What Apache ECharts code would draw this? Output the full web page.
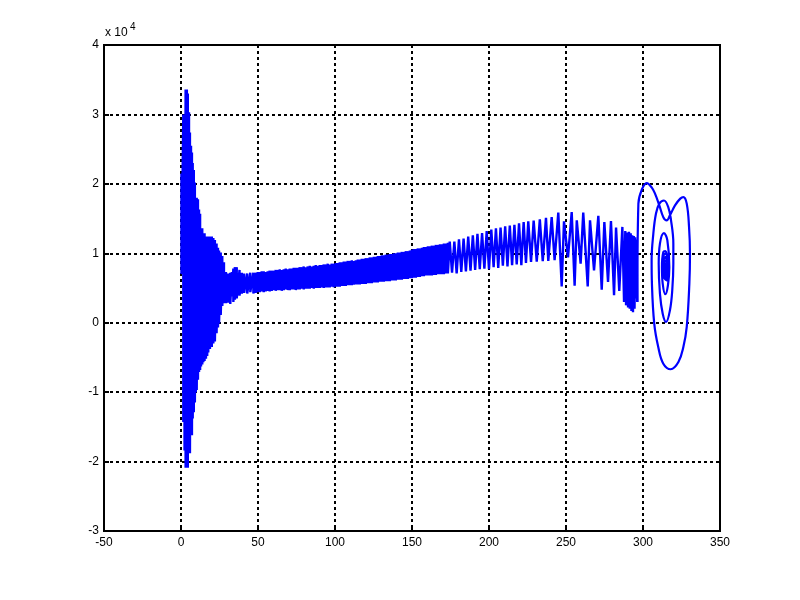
<!DOCTYPE html>
<html><head><meta charset="utf-8">
<style>html,body{margin:0;padding:0;background:#fff}#c{width:800px;height:600px}</style>
<script src="https://cdn.jsdelivr.net/npm/echarts@6/dist/echarts.min.js"></script>
</head><body><div id="c"></div>
<script>
// values on y are in units of 10^4
const xTicks = [-50, 350];
const yTicks = [-3, 4];
const exponentLabel = 'x 10';
const exponentPower = '4';

// near-vertical strokes of the dense early part: position, top, bottom
const strokeX = [0.3,1.5,2.3,3,3.8,4.4,5.2,5.8,6.5,7.1,7.6,8.3,9,9.6,10.2,11,11.7,12.4,13,13.8,14.5,15.3,16.2,17,17.7,18.8,20,21,22,23.1,24,24.7,25.8,26.8,27.9,29.2,30.7,32,33,34,35,36.2,38,39.5,41,43,45,47,
48.5,49.8,51.1,52.4,53.7,55,56.3,57.6,58.9,60.2,61.5,62.8,64.1,65.4,66.7,68,69.3,70.6,71.9,73.2,74.5,75.8,77.1,78.4,79.7,81,82.3,83.6,84.9,86.2,87.5,88.8,90.1,91.4,92.7,94,95.3,96.6,97.9,99.2,100.5,101.8,103.1,104.4,105.7,107,108.3,109.6,110.9,112.2,113.5,114.8,116.1,117.4,118.7,120,121.3,122.6,123.9,125.2,126.5,127.8,129.1,130.4,131.7,133,134.3,135.6,136.9,138.2,139.5,140.8,142.1,143.4,144.7,146,147.3,148.6,149.9,151.2,152.5,153.8,155.1,156.4,157.7,159,160.3,161.6,162.9,164.2,165.5,166.8,168.1,169.4,170.7,172,173.3];
const strokeTop = [2.15,3,3,3.36,3.36,3.3,3.03,2.74,2.55,2.45,2.3,2.2,2.02,1.8,1.8,1.78,1.63,1.57,1.36,1.36,1.29,1.29,1.24,1.24,1.24,1.24,1.24,1.22,1.19,1.14,1.08,1.04,1.01,0.96,0.87,0.73,0.71,0.72,0.73,0.78,0.8,0.8,0.76,0.72,0.71,0.71,0.72,0.72,
0.72,0.73,0.73,0.74,0.74,0.73,0.74,0.75,0.75,0.75,0.76,0.76,0.77,0.76,0.77,0.78,0.77,0.78,0.78,0.79,0.79,0.79,0.8,0.8,0.81,0.8,0.81,0.82,0.81,0.82,0.83,0.82,0.83,0.83,0.84,0.84,0.85,0.84,0.85,0.85,0.86,0.86,0.87,0.87,0.88,0.88,0.89,0.89,0.9,0.89,0.9,0.91,0.91,0.92,0.92,0.93,0.93,0.94,0.94,0.95,0.95,0.96,0.96,0.97,0.97,0.98,0.98,0.99,0.99,1,1,1.01,1.01,1.02,1.02,1.03,1.03,1.04,
1.05,1.06,1.06,1.07,1.07,1.08,1.09,1.09,1.1,1.1,1.11,1.11,1.12,1.12,1.13,1.13,1.14,1.14,1.15];
const strokeBottom = [0.7,-1.43,-1.84,-2.09,-2.09,-2.09,-1.88,-1.88,-1.62,-1.62,-1.38,-1.29,-1.15,-1,-0.97,-0.82,-0.71,-0.68,-0.63,-0.6,-0.57,-0.55,-0.52,-0.48,-0.43,-0.38,-0.35,-0.3,-0.27,-0.15,-0.07,-0.01,0.11,0.24,0.28,0.28,0.29,0.27,0.38,0.3,0.33,0.35,0.39,0.42,0.43,0.42,0.44,0.42,
0.43,0.44,0.44,0.45,0.44,0.45,0.46,0.45,0.46,0.47,0.46,0.47,0.47,0.46,0.47,0.48,0.47,0.47,0.48,0.48,0.47,0.48,0.48,0.49,0.48,0.49,0.49,0.49,0.5,0.49,0.5,0.5,0.5,0.51,0.5,0.51,0.51,0.51,0.52,0.51,0.52,0.52,0.52,0.53,0.53,0.53,0.54,0.54,0.54,0.55,0.55,0.55,0.55,0.56,0.56,0.56,0.57,0.57,0.57,0.58,0.58,0.58,0.59,0.59,0.59,0.6,0.6,0.6,0.61,0.61,0.61,0.62,0.62,0.62,0.63,0.63,0.63,0.64,
0.64,0.65,0.65,0.66,0.66,0.67,0.67,0.68,0.68,0.68,0.68,0.69,0.69,0.7,0.7,0.7,0.7,0.71,0.71];

// the widening oscillation: alternating crests and troughs
const waveX = [174.5,176,177.5,179,180.5,182,183.5,185,186.5,188,189.5,191,192.5,194,195.5,197,198.5,200,201.5,203,204.5,206,207.5,209,210.5,212,213.5,215,216.5,218,219.5,221,222.5,224,225.5,227.3,229,231,233,234.9,237,238.5,240.7,242.6,245,247.2,248.7,251.3,253.7,255.6,257,259.5,261.2,264.1,265.6,268.2,271,273.2,274.9,277.3,279.2,281.2,282.5,284.6,286.6,287.7,288.5,289,289.8,290.3,290.9,291.4,292,292.5,293,293.5,294,294.5,295,295.5,296,296.3];
const waveY = [1.17,0.72,1.17,0.71,1.2,0.73,1.21,0.74,1.24,0.75,1.26,0.76,1.28,0.77,1.29,0.78,1.32,0.77,1.34,0.8,1.36,0.79,1.37,0.82,1.39,0.81,1.4,0.83,1.41,0.84,1.43,0.83,1.45,0.86,1.46,0.875,1.47,0.88,1.49,0.885,1.51,0.89,1.52,0.9,1.585,0.524,1.46,0.94,1.595,0.534,1.475,0.85,1.585,0.524,1.475,0.755,1.54,0.477,1.45,0.587,1.465,0.395,1.37,0.457,1.38,0.3,1.32,0.25,1.3,0.22,1.31,0.2,1.29,0.17,1.26,0.15,1.25,0.2,1.23,0.35,1.2,0.3];

// the closing spiral
const spiralX = [296.3,297,299.1,302.4,305.6,307.8,310.6,313.2,315.4,317.5,320.8,324.2,326.2,328.4,329.9,330.5,330.1,328.4,326.2,323,318,313.2,309.9,307.3,305.8,305.6,306.7,308.4,310.6,313.6,316.4,318.2,319.7,319.7,319,317.5,315,312.8,311,310.2,311,313.6,315.8,317.1,316.2,314.5,312.8,312.3,313.2,314.5,315.8,316.4,315.4,313.6,313,315,316.2,315,313.5,313,314.5,315.8,314.8,313.8,313.5,315,315.5,314.5,314,314.8,315,314.3];
const spiralY = [0.3,1.715,1.91,2.01,1.95,1.86,1.69,1.52,1.475,1.547,1.69,1.787,1.81,1.715,1.378,0.995,0.563,-0.06,-0.35,-0.566,-0.67,-0.59,-0.35,-0.013,0.563,0.9,1.28,1.57,1.715,1.76,1.665,1.475,1.14,0.85,0.467,0.18,0.01,0.13,0.42,0.85,1.14,1.29,1.19,0.8,0.54,0.41,0.563,0.8,1.02,1.03,0.93,0.755,0.61,0.66,0.95,1,0.8,0.62,0.68,0.85,0.95,0.78,0.65,0.72,0.85,0.9,0.75,0.68,0.78,0.85,0.76,0.74];

const dense = [];
strokeX.forEach((x, i) => { dense.push([x, strokeTop[i]], [x, strokeBottom[i]]); });
waveX.forEach((x, i) => dense.push([x, waveY[i]]));
const spiral = spiralX.map((x, i) => [x, spiralY[i]]);

const chart = echarts.init(document.getElementById('c'), null, {renderer: 'canvas'});
const font = '"Liberation Sans", Arial, sans-serif';
chart.setOption({
  animation: false,
  backgroundColor: '#fff',
  grid: {left: 104, right: 80, top: 45, bottom: 69, show: true, borderColor: '#000', borderWidth: 2, backgroundColor: 'transparent'},
  xAxis: {
    type: 'value', min: xTicks[0], max: xTicks[1], interval: 50,
    axisLine: {show: true, onZero: false, lineStyle: {color: '#000', width: 2}},
    axisTick: {show: true, inside: true, length: 5, lineStyle: {color: '#000', width: 2}},
    axisLabel: {color: '#000', fontFamily: font, fontSize: 12, margin: 6, showMinLabel: true, showMaxLabel: true},
    splitLine: {show: true, lineStyle: {color: '#000', width: 2, type: [3, 3]}}
  },
  yAxis: {
    type: 'value', min: yTicks[0], max: yTicks[1], interval: 1,
    axisLine: {show: true, onZero: false, lineStyle: {color: '#000', width: 2}},
    axisTick: {show: true, inside: true, length: 5, lineStyle: {color: '#000', width: 2}},
    axisLabel: {color: '#000', fontFamily: font, fontSize: 12, margin: 5, showMinLabel: true, showMaxLabel: true},
    splitLine: {show: true, lineStyle: {color: '#000', width: 2, type: [3, 3]}}
  },
  graphic: [
    {type: 'text', left: 105, top: 27, style: {text: exponentLabel, font: '12px "Liberation Sans"', fill: '#000'}},
    {type: 'text', left: 130, top: 22, style: {text: exponentPower, font: '10px "Liberation Sans"', fill: '#000'}}
  ],
  series: [{
    type: 'line', data: dense, showSymbol: false, symbol: 'none', smooth: false, sampling: 'none', silent: true,
    lineStyle: {color: '#0000ff', width: 2.4, join: 'bevel'}
  }, {
    type: 'line', data: spiral, showSymbol: false, symbol: 'none', smooth: 0.4, sampling: 'none', silent: true,
    lineStyle: {color: '#0000ff', width: 2.2, join: 'round'}
  }]
});
</script></body></html>
